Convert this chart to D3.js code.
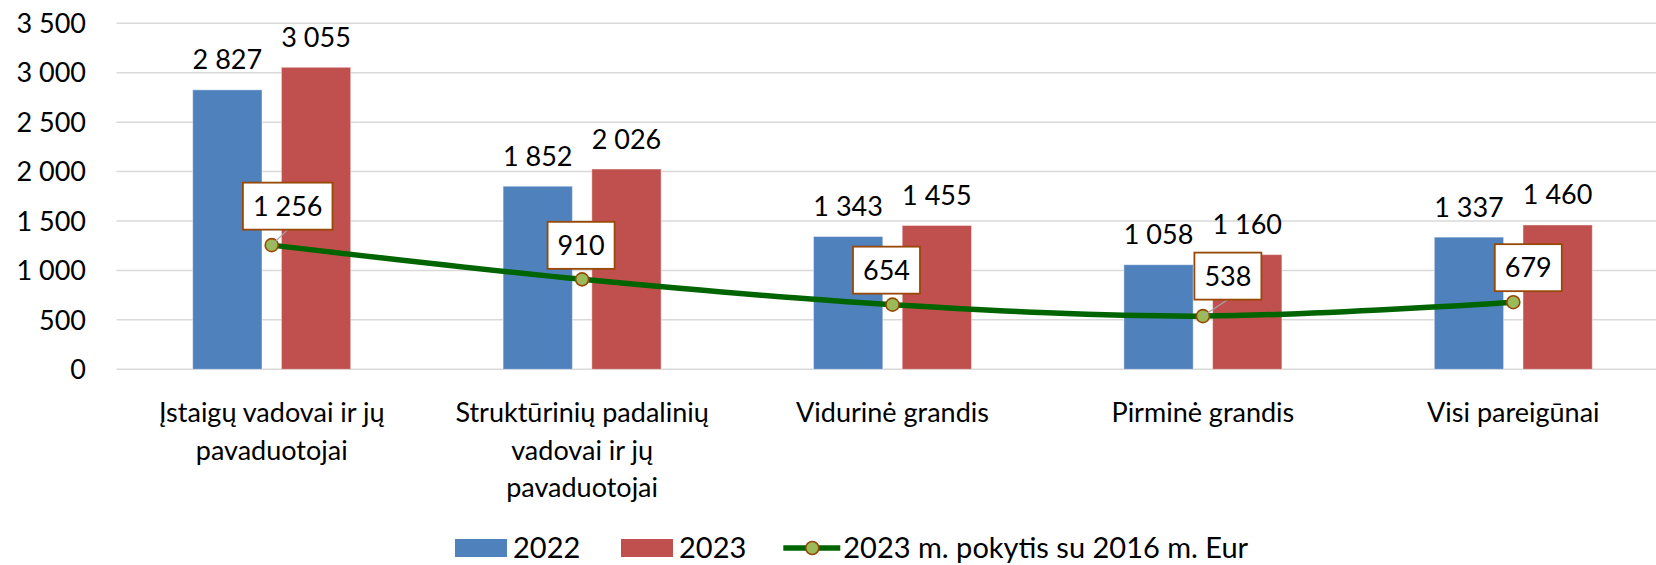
<!DOCTYPE html>
<html><head><meta charset="utf-8">
<script src="https://cdn.jsdelivr.net/npm/d3@7"></script>
<style>
body{margin:0;background:#fff}
svg{display:block}
text{font-family:Lato,"Open Sans",sans-serif;fill:#000}
</style>
</head><body>
<svg id="chart" width="1656" height="565"></svg>
<script>
// ---- data ----
const categories = [
  "Įstaigų vadovai ir jų pavaduotojai",
  "Struktūrinių padalinių vadovai ir jų pavaduotojai",
  "Vidurinė grandis",
  "Pirminė grandis",
  "Visi pareigūnai"
];
const categoryLines = [
  ["Įstaigų vadovai ir jų", "pavaduotojai"],
  ["Struktūrinių padalinių", "vadovai ir jų", "pavaduotojai"],
  ["Vidurinė grandis"],
  ["Pirminė grandis"],
  ["Visi pareigūnai"]
];
const values2022 = [2827, 1852, 1343, 1058, 1337];
const values2023 = [3055, 2026, 1455, 1160, 1460];
const changeValues = [1256, 910, 654, 538, 679];
const yTicks = [0, 500, 1000, 1500, 2000, 2500, 3000, 3500];
const seriesNames = ["2022", "2023", "2023 m. pokytis su 2016 m. Eur"];
// label box offsets (box centre relative to point), layout only
const labelOffsets = [[16, -39], [-1, -34], [-6, -34.5], [25, -40], [15, -34.5]];

// ---- styles ----
const C_BLUE = "#4F81BD", C_RED = "#C0504D", C_LINE = "#006400",
      C_MFILL = "#9BBB59", C_MSTROKE = "#984807", C_GRID = "#d9d9d9";
const FS = 27, FS_CAT = 27, FS_LEG = 29;

const svg = d3.select("#chart");
const fmt = d3.formatLocale({decimal: ",", thousands: " ", grouping: [3], currency: ["", ""]}).format(",d");

const x = d3.scaleBand().domain(categories).range([116.5, 1668.5]).padding(0);
const y = d3.scaleLinear().domain([0, 3500]).range([369.3, 23.3]);
const bw = x.bandwidth() * 0.2233, gap = x.bandwidth() * 0.0625;
const cx = c => x(c) + x.bandwidth() / 2;

// gridlines
svg.append("g").selectAll("line").data(yTicks).join("line")
  .attr("x1", 116.5).attr("x2", 1656)
  .attr("y1", d => y(d)).attr("y2", d => y(d))
  .attr("stroke", C_GRID).attr("stroke-width", 1.5);

// y axis labels
const yAxis = d3.axisLeft(y).tickValues(yTicks).tickFormat(fmt).tickSize(0).tickPadding(0);
const ya = svg.append("g").attr("transform", "translate(86,0)").call(yAxis);
ya.select(".domain").remove();
ya.selectAll("text").attr("font-size", FS).attr("font-family", "Lato,'Open Sans',sans-serif").attr("fill", "#000").attr("dy", "0.34em");

// bars
const series = [
  {name: seriesNames[0], vals: values2022, color: C_BLUE, off: -gap / 2 - bw},
  {name: seriesNames[1], vals: values2023, color: C_RED, off: gap / 2}
];
series.forEach(s => {
  const g = svg.append("g");
  g.selectAll("rect").data(categories).join("rect")
    .attr("x", (c) => cx(c) + s.off)
    .attr("width", bw)
    .attr("y", (c, i) => y(s.vals[i]))
    .attr("height", (c, i) => y(0) - y(s.vals[i]))
    .attr("fill", s.color)
    .attr("stroke", "rgba(255,255,255,0.45)").attr("stroke-width", 1);
  g.selectAll("text").data(categories).join("text")
    .attr("x", c => cx(c) + s.off + bw / 2)
    .attr("y", (c, i) => y(s.vals[i]) - 20.5)
    .attr("text-anchor", "middle").attr("font-size", FS)
    .text((c, i) => fmt(s.vals[i]));
});

// category labels
const xl = svg.append("g");
categories.forEach((c, i) => {
  const t = xl.append("text").attr("text-anchor", "middle").attr("font-size", FS_CAT)
    .attr("x", cx(c)).attr("y", 422);
  categoryLines[i].forEach((ln, j) => {
    t.append("tspan").attr("x", cx(c)).attr("y", 422 + j * 37.5).text(ln);
  });
});

// line series
const pts = categories.map((c, i) => [cx(c), y(changeValues[i])]);
svg.append("path").attr("d", d3.line().curve(d3.curveCatmullRom.alpha(0.5))(pts))
  .attr("fill", "none").attr("stroke", C_LINE).attr("stroke-width", 5.5).attr("stroke-linecap", "round");

// markers
const mg = svg.append("g");
mg.selectAll("circle").data(pts).join("circle")
  .attr("cx", d => d[0]).attr("cy", d => d[1]).attr("r", 6.5)
  .attr("fill", C_MFILL).attr("stroke", C_MSTROKE).attr("stroke-width", 1.6);

// leader lines + label boxes
const lg = svg.append("g");
const boxes = [];
categories.forEach((c, i) => {
  const [px, py] = pts[i];
  const bx = px + labelOffsets[i][0], by = py + labelOffsets[i][1];
  const t = lg.append("text").attr("x", bx).attr("y", by).attr("dy", "0.35em")
    .attr("text-anchor", "middle").attr("font-size", FS).text(fmt(changeValues[i]));
  boxes.push({t, bx, by, px, py});
});
boxes.forEach(b => {
  const w = b.t.node().getComputedTextLength() + 20, h = 47;
  const bottom = b.by + h / 2;
  if (b.py - bottom > 13) {
    lg.insert("line", "text").attr("x1", b.bx).attr("y1", bottom).attr("x2", b.px).attr("y2", b.py)
      .attr("stroke", "#a6a6a6").attr("stroke-width", 1.2);
  }
  lg.insert("rect", "text").attr("x", b.bx - w / 2).attr("y", b.by - h / 2).attr("width", w).attr("height", h)
    .attr("fill", "#fff").attr("stroke", C_MSTROKE).attr("stroke-width", 1.8);
});

// legend
const leg = svg.append("g");
const ly = 548;
let lx = 455;
[0, 1].forEach(k => {
  leg.append("rect").attr("x", lx).attr("y", ly - 9).attr("width", 52).attr("height", 18)
    .attr("fill", series[k].color);
  leg.append("text").attr("x", lx + 58).attr("y", ly).attr("dy", "0.36em")
    .attr("font-size", FS_LEG).text(seriesNames[k]);
  lx = 621;
});
lx = 783.3;
leg.append("line").attr("x1", lx).attr("x2", lx + 57).attr("y1", ly).attr("y2", ly)
  .attr("stroke", C_LINE).attr("stroke-width", 5.5);
leg.append("circle").attr("cx", lx + 29).attr("cy", ly).attr("r", 6.5)
  .attr("fill", C_MFILL).attr("stroke", C_MSTROKE).attr("stroke-width", 1.6);
leg.append("text").attr("x", lx + 60).attr("y", ly).attr("dy", "0.36em")
  .attr("font-size", FS_LEG).text(seriesNames[2]);
</script>
</body></html>
